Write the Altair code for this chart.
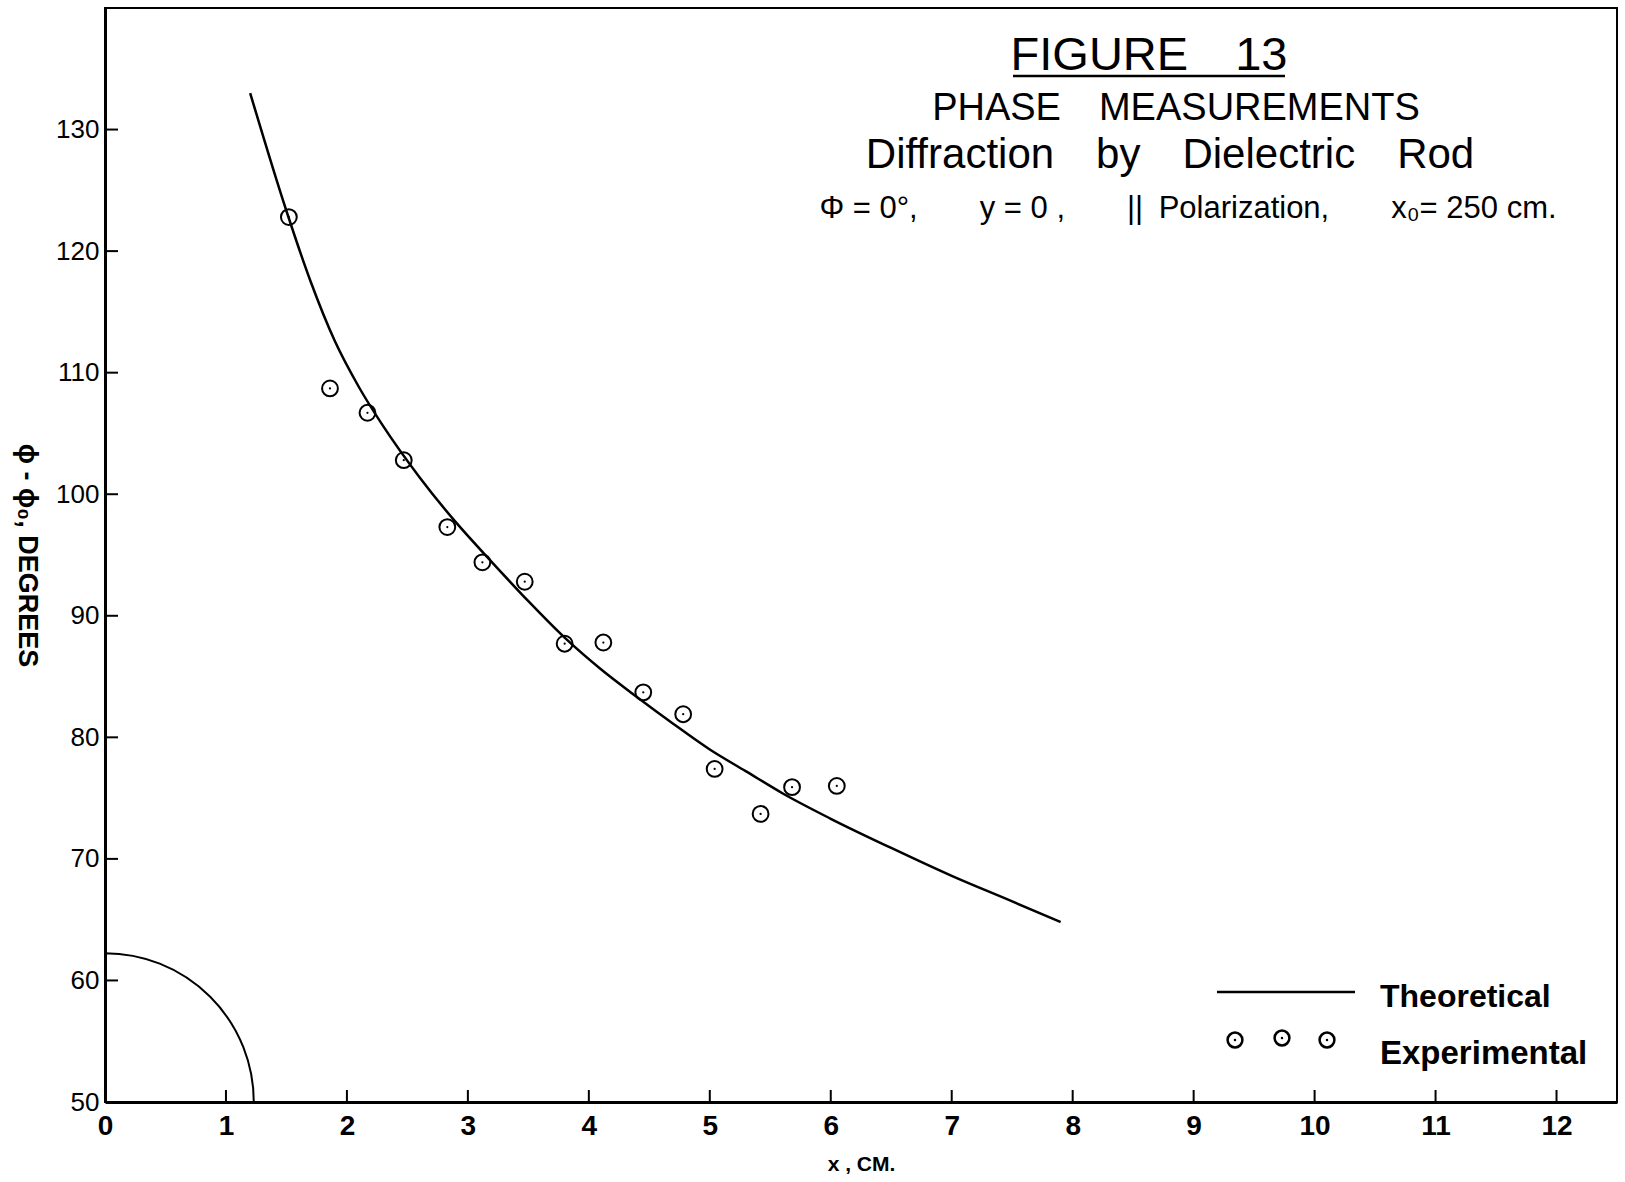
import math
import altair as alt
import pandas as pd

# ---- data ----
theory_x = [1.20, 1.50, 1.70, 1.90, 2.10, 2.30, 2.60, 2.90, 3.20, 3.50, 3.80,
            4.10, 4.40, 4.70, 5.00, 5.30, 5.60, 6.00, 6.50, 7.00, 7.50, 7.90]
theory_y = [133.0, 123.3, 117.5, 112.6, 108.8, 105.6, 101.4, 97.7, 94.4, 91.2, 88.2,
            85.6, 83.3, 81.1, 79.0, 77.2, 75.4, 73.3, 70.9, 68.6, 66.5, 64.8]

exp_x = [1.52, 1.86, 2.17, 2.47, 2.83, 3.12, 3.47, 3.80, 4.12, 4.45, 4.78,
         5.04, 5.42, 5.68, 6.05]
exp_y = [122.8, 108.7, 106.7, 102.8, 97.3, 94.4, 92.8, 87.7, 87.8, 83.7, 81.9,
         77.4, 73.7, 75.9, 76.0]

x_ticks = list(range(0, 13))
y_ticks = list(range(50, 131, 10))

rod_center_x = [0.0]
rod_center_y = [50.0]
rod_radius_cm = [1.23]

EM = "\u2003"
EN = "\u2002"
title_lines = ["FIGURE" + EM + "13",
               "PHASE" + EM + "MEASUREMENTS",
               "Diffraction" + EM + "by" + EM + "Dielectric" + EM + "Rod",
               "Φ = 0°," + EM + EM + "y = 0 ," + EM + EM + "||" + EN + "Polarization," + EM + EM + "x₀= 250 cm."]
legend_labels = ["Theoretical", "Experimental"]

# ---- layout ----
W, H = 1512, 1094
X_DOMAIN = [0, 12.5]
Y_DOMAIN = [50, 140]
FONT = "Liberation Sans"

xs = alt.Scale(domain=X_DOMAIN, nice=False, zero=False)
ys = alt.Scale(domain=Y_DOMAIN, nice=False, zero=False)

x_axis = alt.Axis(values=x_ticks, title="x , CM.", ticks=False, tickSize=0, grid=False,
                  labelPadding=10, labelFont=FONT, labelFontSize=28, labelFontWeight="bold",
                  labelFlush=False, labelColor="black", domainWidth=3, domainColor="black",
                  titleFont=FONT, titleFontSize=21, titleFontWeight="bold", titleColor="black",
                  titleY=62, titleBaseline="middle")
y_axis = alt.Axis(values=y_ticks, title="ϕ - ϕ₀, DEGREES", ticks=False, tickSize=0, grid=False,
                  labelPadding=6, labelFont=FONT, labelFontSize=26, labelColor="black",
                  labelFlush=False, domainWidth=3, domainColor="black",
                  titleFont=FONT, titleFontSize=27, titleFontWeight="bold", titleColor="black",
                  titleAngle=90, titleX=-79, titleY=H / 2, titleAlign="center",
                  titleBaseline="middle")

X = alt.X("x:Q", scale=xs, axis=x_axis)
Y = alt.Y("y:Q", scale=ys, axis=y_axis)

theory = pd.DataFrame({"x": theory_x, "y": theory_y})
exp = pd.DataFrame({"x": exp_x, "y": exp_y})

line = alt.Chart(theory).mark_line(color="black", strokeWidth=2.5, interpolate="monotone").encode(x=X, y=Y)

pts = alt.Chart(exp).mark_point(shape="circle", size=250, color="black", strokeWidth=2,
                                filled=False, opacity=1).encode(x=X, y=Y)
dots = alt.Chart(exp).mark_point(shape="circle", size=5, color="black", filled=True,
                                 opacity=1).encode(x=X, y=Y)

rod = pd.DataFrame({"x": rod_center_x, "y": rod_center_y, "r": rod_radius_cm})
arc = alt.Chart(rod).mark_arc(theta=0, theta2=math.pi / 2, fill="white", fillOpacity=0,
                              stroke="black", strokeWidth=2).encode(
    x=X, y=Y,
    radius=alt.Radius("r:Q", scale=alt.Scale(type="linear", domain=X_DOMAIN, range=[0, W],
                                             zero=True, nice=False)))

xt = alt.Chart(pd.DataFrame({"x": x_ticks[1:]})).mark_rule(color="black", strokeWidth=2).encode(
    x=X, y=alt.value(H), y2=alt.value(H - 12))
yt = alt.Chart(pd.DataFrame({"y": y_ticks[1:]})).mark_rule(color="black", strokeWidth=2).encode(
    y=Y, x=alt.value(0), x2=alt.value(13))


def txt(s, px, py, size, weight="normal", align="center"):
    return alt.Chart(pd.DataFrame({"t": [s]})).mark_text(
        font=FONT, fontSize=size, fontWeight=weight, align=align, baseline="alphabetic",
        color="black").encode(text="t:N", x=alt.value(px), y=alt.value(py))


t1 = txt(title_lines[0], 1044, 62, 47)
underline = alt.Chart(pd.DataFrame({"t": [0]})).mark_rule(color="black", strokeWidth=2.5).encode(
    x=alt.value(908), x2=alt.value(1180), y=alt.value(68))
t2 = txt(title_lines[1], 1071, 112, 38)
t3 = txt(title_lines[2], 1065, 160, 42)
t4 = txt(title_lines[3], 1083, 210, 31)

leg_line = alt.Chart(pd.DataFrame({"t": [0]})).mark_rule(color="black", strokeWidth=2.5).encode(
    x=alt.value(1112), x2=alt.value(1250), y=alt.value(984))
leg_t1 = txt(legend_labels[0], 1275, 999, 32, "bold", "left")
leg_t2 = txt(legend_labels[1], 1275, 1056, 33, "bold", "left")
leg_pts = []
for px, py in [(1130, 1032), (1177, 1030), (1222, 1032)]:
    d = pd.DataFrame({"t": [0]})
    leg_pts.append(alt.Chart(d).mark_point(shape="circle", size=220, color="black", strokeWidth=2.5,
                                           filled=False, opacity=1).encode(x=alt.value(px), y=alt.value(py)))
    leg_pts.append(alt.Chart(d).mark_point(shape="circle", size=6, color="black", filled=True,
                                           opacity=1).encode(x=alt.value(px), y=alt.value(py)))

chart = alt.layer(line, arc, xt, yt, pts, dots, t1, underline, t2, t3, t4,
                  leg_line, leg_t1, leg_t2, *leg_pts).properties(
    width=W, height=H,
    autosize=alt.AutoSizeParams(type="none"),
    padding={"left": 105, "top": 8, "right": 8, "bottom": 80},
    background="white",
).configure_view(stroke="black", strokeWidth=2)

chart.save("out.html", embed_options={"renderer": "svg", "actions": False})
